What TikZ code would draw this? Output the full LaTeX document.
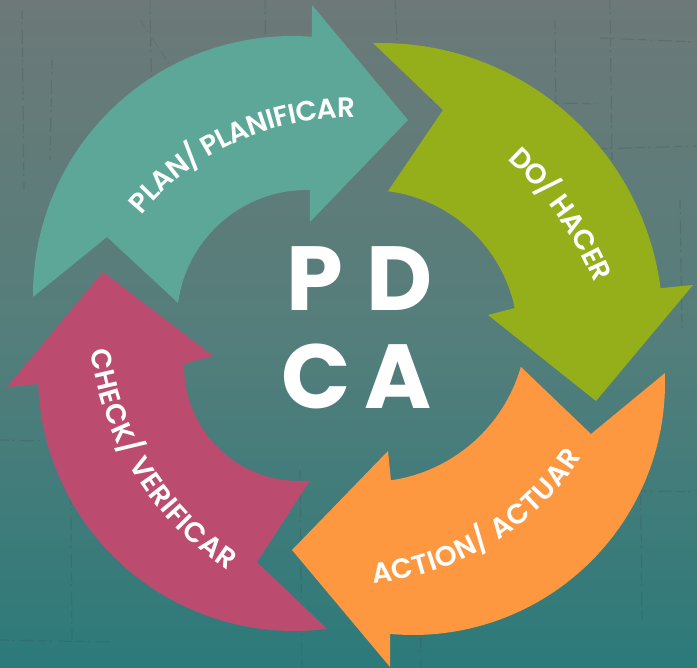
\documentclass[tikz,border=0pt]{standalone}
\usepackage{fontspec}
\usetikzlibrary{decorations.text}
\newfontfamily\popfont{Poppins}
\newfontfamily\popsemi{Poppins SemiBold}
\newcommand\labelfont{\popsemi\fontsize{28}{28}\selectfont}
\definecolor{planc}{RGB}{93,167,152}
\definecolor{doc}{RGB}{149,175,26}
\definecolor{actc}{RGB}{253,151,64}
\definecolor{chkc}{RGB}{188,76,111}
\definecolor{bgtop}{RGB}{108,121,120}
\definecolor{bgmid}{RGB}{84,126,123}
\definecolor{bgbot}{RGB}{44,122,122}
\definecolor{scr}{RGB}{60,80,80}
\begin{document}
\begin{tikzpicture}[x=1pt,y=1pt,
  lbl/.style={decorate, decoration={text along path, text align=center, text color=white, raise=-10pt}},
  scratch/.style={draw=scr, opacity=0.25, line width=1.2pt, dash pattern=on 9pt off 3pt on 2pt off 6pt on 14pt off 4pt},
  pdca/.style={text=white, font=\popfont\bfseries\fontsize{91}{91}\selectfont, inner sep=0pt, anchor=base}]
\useasboundingbox (0,0) rectangle (697,-668);
\shade[top color=bgtop, bottom color=bgbot, middle color=bgmid] (0,0) rectangle (697,-668);
% background scratches
\draw[scratch] (22,-10) -- (24,-190);
\draw[scratch] (52,-60) -- (50,-160);
\draw[scratch] (70,-420) -- (72,-640);
\draw[scratch] (150,-0) -- (152,-120);
\draw[scratch] (265,-0) -- (266,-70);
\draw[scratch] (300,-470) -- (302,-668);
\draw[scratch] (395,-0) -- (397,-40);
\draw[scratch] (420,-600) -- (421,-668);
\draw[scratch] (555,-20) -- (556,-120);
\draw[scratch] (610,-0) -- (612,-160);
\draw[scratch] (640,-420) -- (642,-620);
\draw[scratch] (680,-200) -- (682,-330);
\draw[scratch] (430,-100) -- (600,-104);
\draw[scratch] (600,-38) -- (697,-42);
\draw[scratch] (560,-150) -- (697,-146);
\draw[scratch] (600,-490) -- (697,-492);
\draw[scratch] (0,-640) -- (110,-642);
\draw[scratch] (0,-440) -- (40,-441);
\draw[scratch, opacity=0.15] (140,-20) -- (180,-80);
% PLAN arrow
\fill[planc] (33,-297) -- ([shift={(292,-295)}]180.4:259) arc[start angle=180.4, end angle=85.6, radius=259]
  -- (312,-5) -- (408,-120) -- (310,-222)
  -- ([shift={(307,-320)}]88.7:130) arc[start angle=88.7, end angle=172.5, radius=130]
  -- (107,-237) -- cycle;
% DO arrow
\fill[doc] (373,-43) -- ([shift={(381,-325)}]91.6:282) arc[start angle=91.6, end angle=7.5, radius=282]
  -- (693,-285) -- (596,-401) -- (488,-315)
  -- ([shift={(369,-339)}]12:149) arc[start angle=12, end angle=82.7, radius=149]
  -- (443,-110) -- cycle;
% ACTION arrow
\fill[actc] (665,-373) -- ([shift={(413,-383)}]2.3:252) arc[start angle=2.3, end angle=-95.2, radius=252]
  -- (390,-667) -- (292,-550) -- (388,-451)
  -- ([shift={(368,-323)}]-81.7:159) arc[start angle=-81.7, end angle=-16, radius=159]
  -- (591,-434) -- cycle;
% CHECK arrow
\fill[chkc] (327,-629) -- ([shift={(294,-375)}]-82.6:256) arc[start angle=-82.6, end angle=-178, radius=256]
  -- (7,-387) -- (103,-272) -- (213,-356)
  -- ([shift={(299,-366)}]179:115) arc[start angle=179, end angle=275.5, radius=115]
  -- (257,-562) -- cycle;
% labels
\path[lbl, decoration={text={|\labelfont|PLAN/ PLANIFICAR}}]
  ([shift={(348.5,-386.5)}]149:278.6) arc[start angle=149, end angle=80, radius=278.6];
\path[lbl, decoration={text={|\labelfont|DO/ HACER}}]
  ([shift={(266.5,-421.4)}]53.5:365.8) arc[start angle=53.5, end angle=16.8, radius=365.8];
\path[lbl, decoration={text={|\labelfont|CHECK/ VERIFICAR}}]
  ([shift={(397.3,-311.5)}]182:299.1) arc[start angle=182, end angle=242, radius=299.1];
\path[lbl, decoration={text={|\labelfont|ACTION/ ACTUAR}}]
  ([shift={(347.2,-305.9)}]-90:268.8) arc[start angle=-90, end angle=-27.5, radius=268.8];
% PDCA
\node[pdca] (P) at (315,-311) {P};
\node[pdca] (D) at (400,-311) {D};
\node[pdca] (C) at (316,-409) {C};
\node[pdca] (A) at (398,-409) {A};
\end{tikzpicture}
\end{document}
